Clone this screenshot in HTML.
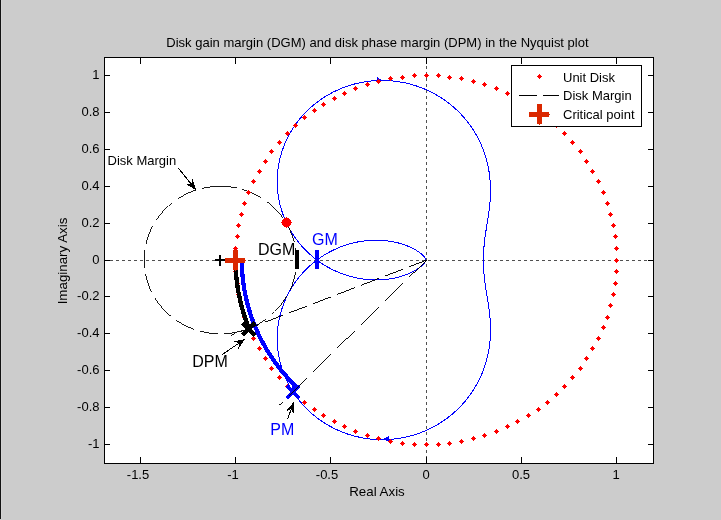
<!DOCTYPE html>
<html><head><meta charset="utf-8"><title>Disk margin Nyquist plot</title>
<style>
html,body{margin:0;padding:0;background:#cccccc;}
body{width:721px;height:520px;overflow:hidden;position:relative;}
svg{position:absolute;left:0;top:0;display:block;}
text{font-family:"Liberation Sans",Arial,Helvetica,sans-serif;fill:#000;}
.s{font-size:13px;}
.a{font-size:13.33px;}
.b{font-size:16px;}
</style></head><body>
<svg width="721" height="520" viewBox="0 0 721 520">
<rect x="0" y="0" width="721" height="520" fill="#cccccc"/>
<rect x="0" y="0" width="1" height="519" fill="#111111"/>
<rect x="1" y="0" width="1" height="519" fill="#d3d3d3"/>
<rect x="104" y="57" width="550" height="407" fill="#ffffff"/>
<g shape-rendering="crispEdges" fill="none">
<path d="M104 260.5H653" stroke="#505050" stroke-width="1" stroke-dasharray="3 3" stroke-dashoffset="0"/>
<path d="M426.5 60V463" stroke="#505050" stroke-width="1" stroke-dasharray="3 3"/>
</g>
<g shape-rendering="crispEdges" fill="none" stroke="#0000ff" stroke-width="1">
<path d="M483.5 260.05 L483.51 260.85 L483.51 261.66 L483.52 262.46 L483.53 263.25 L483.55 264.03 L483.56 264.82 L483.58 265.61 L483.61 266.38 L483.64 267.17 L483.67 267.94 L483.7 268.73 L483.74 269.5 L483.79 270.3 L483.83 271.11 L483.88 271.89 L483.94 272.66 L483.99 273.42 L484.05 274.17 L484.12 274.96 L484.19 275.73 L484.26 276.55 L484.34 277.32 L484.42 278.05 L484.5 278.82 L484.59 279.63 L484.68 280.37 L484.78 281.15 L484.87 281.86 L484.96 282.59 L485.07 283.36 L485.18 284.17 L485.3 285.01 L485.41 285.75 L485.52 286.52 L485.65 287.33 L485.78 288.17 L485.89 288.87 L486.01 289.6 L486.13 290.36 L486.26 291.15 L486.39 291.98 L486.54 292.84 L486.69 293.74 L486.8 294.44 L486.93 295.17 L487.05 295.92 L487.18 296.7 L487.32 297.52 L487.46 298.36 L487.6 299.24 L487.75 300.15 L487.9 301.1 L488.06 302.1 L488.22 303.14 L488.33 303.85 L488.44 304.6 L488.56 305.36 L488.67 306.15 L488.79 306.96 L488.9 307.8 L489.02 308.67 L489.14 309.57 L489.26 310.51 L489.37 311.47 L489.49 312.47 L489.6 313.51 L489.72 314.59 L489.83 315.71 L489.93 316.88 L490.04 318.09 L490.13 319.35 L490.22 320.67 L490.3 322.04 L490.37 323.48 L490.43 324.98 L490.47 326.54 L490.49 327.35 L490.5 328.18 L490.5 329.03 L490.5 329.9 L490.5 330.79 L490.48 331.7 L490.46 332.64 L490.44 333.59 L490.4 334.58 L490.36 335.58 L490.3 336.61 L490.24 337.67 L490.16 338.75 L490.07 339.87 L489.97 341.01 L489.86 342.18 L489.73 343.39 L489.58 344.62 L489.41 345.89 L489.23 347.2 L489.02 348.54 L488.79 349.91 L488.54 351.33 L488.26 352.78 L487.95 354.28 L487.62 355.81 L487.24 357.39 L486.84 359.02 L486.39 360.69 L485.9 362.41 L485.37 364.17 L484.78 365.99 L484.14 367.85 L483.45 369.77 L482.69 371.74 L481.87 373.76 L480.97 375.84 L480.0 377.97 L478.94 380.16 L477.79 382.4 L476.54 384.7 L475.19 387.05 L473.72 389.45 L472.12 391.91 L470.4 394.41 L468.53 396.96 L466.51 399.55 L464.32 402.17 L461.96 404.83 L459.41 407.51 L456.66 410.2 L453.69 412.89 L450.5 415.58 L447.07 418.24 L443.39 420.86 L439.45 423.41 L435.23 425.89 L430.73 428.27 L425.94 430.5 L420.85 432.58 L415.47 434.46 L409.79 436.11 L403.82 437.5 L397.57 438.58 L391.06 439.31 L384.32 439.65 L377.36 439.57 L370.24 439.03 L362.99 437.98 L355.66 436.41 L348.33 434.3 L341.04 431.62 L333.86 428.36 L326.87 424.54 L320.14 420.17 L313.74 415.28 L307.72 409.89 L302.15 404.06 L297.09 397.84 L292.56 391.29 L288.61 384.47 L285.25 377.46 L282.49 370.33 L280.32 363.14 L278.74 355.96 L277.72 348.84 L277.24 341.85 L277.25 335.03 L277.73 328.41 L278.62 322.04 L279.88 315.93 L281.48 310.11 L283.36 304.58 L285.49 299.36 L287.83 294.45 L290.33 289.84 L292.98 285.53 L295.74 281.52 L298.57 277.78 L301.46 274.32 L304.39 271.12 L307.34 268.16 L310.29 265.43 L313.22 262.93 L316.13 260.63 L319.01 258.51 L321.84 256.58 L324.63 254.82 L327.37 253.21 L330.04 251.74 L332.66 250.4 L335.21 249.19 L337.7 248.1 L340.13 247.1 L342.48 246.21 L344.78 245.4 L347.0 244.67 L349.16 244.03 L351.26 243.45 L353.3 242.93 L355.27 242.47 L357.18 242.07 L359.04 241.72 L360.83 241.41 L362.57 241.15 L364.26 240.92 L365.89 240.73 L367.48 240.58 L369.01 240.45 L370.5 240.35 L371.94 240.28 L373.33 240.22 L374.69 240.19 L376.0 240.18 L377.27 240.19 L378.5 240.21 L379.69 240.25 L380.85 240.3 L381.97 240.36 L383.06 240.44 L384.12 240.53 L385.15 240.62 L386.14 240.72 L387.11 240.83 L388.05 240.95 L388.96 241.08 L389.84 241.21 L390.7 241.34 L391.53 241.48 L392.35 241.63 L393.13 241.77 L393.9 241.92 L394.64 242.08 L395.37 242.23 L396.07 242.39 L396.76 242.55 L397.42 242.72 L398.07 242.88 L399.32 243.21 L400.5 243.54 L401.62 243.88 L402.68 244.21 L403.69 244.55 L404.65 244.88 L405.56 245.21 L406.42 245.53 L407.25 245.86 L408.03 246.18 L408.78 246.49 L409.49 246.8 L410.17 247.11 L410.82 247.41 L411.44 247.7 L412.03 247.99 L412.59 248.28 L413.13 248.56 L413.9 248.96 L414.61 249.36 L415.28 249.74 L415.91 250.12 L416.5 250.47 L417.05 250.82 L417.56 251.16 L418.05 251.48 L418.65 251.9 L419.2 252.3 L419.71 252.68 L420.18 253.04 L420.72 253.46 L421.21 253.87 L421.65 254.25 L422.12 254.67 L422.55 255.07 L422.98 255.5 L423.41 255.94 L423.83 256.39 L424.21 256.83 L424.58 257.3 L424.93 257.76 L425.25 258.24 L425.56 258.75 L425.83 259.29 L426.03 259.9 L426.05 260.05"/>
<path d="M483.5 260.05 L483.51 259.26 L483.51 258.46 L483.52 257.66 L483.53 256.86 L483.55 256.07 L483.56 255.26 L483.59 254.47 L483.61 253.69 L483.64 252.9 L483.67 252.12 L483.71 251.33 L483.74 250.56 L483.79 249.8 L483.83 248.99 L483.88 248.21 L483.94 247.44 L483.99 246.68 L484.05 245.93 L484.12 245.14 L484.19 244.37 L484.26 243.64 L484.33 242.87 L484.41 242.14 L484.49 241.38 L484.58 240.58 L484.67 239.84 L484.76 239.06 L484.87 238.24 L484.96 237.51 L485.07 236.74 L485.18 235.93 L485.3 235.09 L485.41 234.35 L485.52 233.58 L485.65 232.77 L485.78 231.93 L485.89 231.23 L486.01 230.5 L486.13 229.74 L486.26 228.95 L486.39 228.12 L486.54 227.26 L486.69 226.36 L486.8 225.66 L486.93 224.93 L487.05 224.18 L487.18 223.4 L487.32 222.58 L487.46 221.74 L487.6 220.86 L487.75 219.95 L487.9 219.0 L488.06 218.0 L488.22 216.96 L488.33 216.25 L488.44 215.5 L488.56 214.74 L488.67 213.95 L488.79 213.14 L488.9 212.3 L489.02 211.43 L489.14 210.53 L489.26 209.59 L489.37 208.63 L489.49 207.63 L489.6 206.59 L489.72 205.51 L489.83 204.39 L489.93 203.22 L490.04 202.01 L490.13 200.75 L490.22 199.43 L490.3 198.06 L490.37 196.62 L490.43 195.12 L490.47 193.56 L490.49 192.75 L490.5 191.92 L490.5 191.07 L490.5 190.2 L490.5 189.31 L490.48 188.4 L490.46 187.46 L490.44 186.51 L490.4 185.52 L490.36 184.52 L490.3 183.49 L490.24 182.43 L490.16 181.35 L490.07 180.23 L489.97 179.09 L489.86 177.92 L489.73 176.71 L489.58 175.48 L489.41 174.21 L489.23 172.9 L489.02 171.56 L488.79 170.19 L488.54 168.77 L488.26 167.32 L487.95 165.82 L487.62 164.29 L487.24 162.71 L486.84 161.08 L486.39 159.41 L485.9 157.69 L485.37 155.93 L484.78 154.11 L484.14 152.25 L483.45 150.33 L482.69 148.36 L481.87 146.34 L480.97 144.26 L480.0 142.13 L478.94 139.94 L477.79 137.7 L476.54 135.4 L475.19 133.05 L473.72 130.65 L472.12 128.19 L470.4 125.69 L468.53 123.14 L466.51 120.55 L464.32 117.93 L461.96 115.27 L459.41 112.59 L456.66 109.9 L453.69 107.21 L450.5 104.52 L447.07 101.86 L443.39 99.24 L439.45 96.69 L435.23 94.21 L430.73 91.83 L425.94 89.6 L420.85 87.52 L415.47 85.64 L409.79 83.99 L403.82 82.6 L397.57 81.52 L391.06 80.79 L384.32 80.45 L377.36 80.53 L370.24 81.07 L362.99 82.12 L355.66 83.69 L348.33 85.8 L341.04 88.48 L333.86 91.74 L326.87 95.56 L320.14 99.93 L313.74 104.82 L307.72 110.21 L302.15 116.04 L297.09 122.26 L292.56 128.81 L288.61 135.63 L285.25 142.64 L282.49 149.77 L280.32 156.96 L278.74 164.14 L277.72 171.26 L277.24 178.25 L277.25 185.07 L277.73 191.69 L278.62 198.06 L279.88 204.17 L281.48 209.99 L283.36 215.52 L285.49 220.74 L287.83 225.65 L290.33 230.26 L292.98 234.57 L295.74 238.58 L298.57 242.32 L301.46 245.78 L304.39 248.98 L307.34 251.94 L310.29 254.67 L313.22 257.17 L316.13 259.47 L319.01 261.59 L321.84 263.52 L324.63 265.28 L327.37 266.89 L330.04 268.36 L332.66 269.7 L335.21 270.91 L337.7 272.0 L340.13 273.0 L342.48 273.89 L344.78 274.7 L347.0 275.43 L349.16 276.07 L351.26 276.65 L353.3 277.17 L355.27 277.63 L357.18 278.03 L359.04 278.38 L360.83 278.69 L362.57 278.95 L364.26 279.18 L365.89 279.37 L367.48 279.52 L369.01 279.65 L370.5 279.75 L371.94 279.82 L373.33 279.88 L374.69 279.91 L376.0 279.92 L377.27 279.91 L378.5 279.89 L379.69 279.85 L380.85 279.8 L381.97 279.74 L383.06 279.66 L384.12 279.57 L385.15 279.48 L386.14 279.38 L387.11 279.27 L388.05 279.15 L388.96 279.02 L389.84 278.89 L390.7 278.76 L391.53 278.62 L392.35 278.47 L393.13 278.33 L393.9 278.18 L394.64 278.02 L395.37 277.87 L396.07 277.71 L396.76 277.55 L397.42 277.38 L398.07 277.22 L399.32 276.89 L400.5 276.56 L401.62 276.22 L402.68 275.89 L403.69 275.55 L404.65 275.22 L405.56 274.89 L406.42 274.57 L407.25 274.24 L408.03 273.92 L408.78 273.61 L409.49 273.3 L410.17 272.99 L410.82 272.69 L411.44 272.4 L412.03 272.11 L412.59 271.82 L413.13 271.54 L413.9 271.14 L414.61 270.74 L415.28 270.36 L415.91 269.98 L416.5 269.63 L417.05 269.28 L417.56 268.94 L418.05 268.62 L418.65 268.2 L419.2 267.8 L419.71 267.42 L420.18 267.06 L420.72 266.64 L421.21 266.23 L421.65 265.85 L422.12 265.43 L422.55 265.03 L422.98 264.6 L423.41 264.16 L423.83 263.71 L424.21 263.27 L424.58 262.8 L424.93 262.34 L425.27 261.83 L425.57 261.33 L425.84 260.78 L426.04 260.18 L426.05 260.05"/>
</g>
<g shape-rendering="crispEdges" fill="#0000ff">
<path d="M377 77 L382.5 80.5 L377 83 Z"/>
<path d="M383 439 L389 436 L389 442 Z"/>
</g>
<g shape-rendering="crispEdges" fill="none" stroke="#000" stroke-width="1">
<path stroke-width="0.9" d="M220.3 186.2 L218.7 186.3 L217.1 186.3 L215.7 186.4 L214.2 186.5 L212.8 186.6 L211.4 186.8 L210.0 186.9 L208.5 187.1 L207.1 187.4 L205.7 187.6 L204.3 187.9 L203.1 188.2 L202.3 188.3 M196.3 190.0 L195.1 190.4 L193.9 190.8 L192.7 191.3 L191.5 191.7 L190.3 192.2 L189.2 192.7 L188.0 193.2 L186.8 193.7 L185.7 194.3 L184.6 194.9 L183.4 195.5 L182.5 196.0 L181.5 196.5 L180.6 197.1 L179.6 197.7 L178.7 198.2 L178.3 198.5 M172.2 202.8 L171.4 203.5 L170.5 204.2 L169.7 204.9 L168.8 205.6 L168.0 206.4 L167.2 207.1 L166.4 207.9 L165.6 208.7 L164.9 209.4 L164.1 210.2 L163.3 211.0 L162.6 211.8 L161.9 212.7 L161.2 213.5 L160.5 214.3 L159.8 215.2 L159.1 216.1 L158.5 216.9 L157.8 217.8 L157.2 218.7 L156.6 219.6 L156.3 220.0 M152.7 226.0 L152.1 227.1 L151.6 228.2 L151.0 229.4 L150.5 230.5 L150.0 231.6 L149.5 232.8 L149.0 233.9 L148.6 235.1 L148.2 236.2 L147.8 237.4 L147.4 238.6 L147.0 239.8 L146.7 241.0 L146.4 242.2 L146.1 243.4 L145.9 244.0 M144.8 250.1 L144.6 251.4 L144.5 252.8 L144.3 254.2 L144.2 255.8 L144.2 257.3 L144.1 258.9 L144.1 260.4 L144.1 261.9 L144.2 263.5 L144.3 265.0 L144.4 266.6 L144.5 268.0 L144.6 268.1 M145.5 274.1 L145.8 275.4 L146.1 276.8 L146.4 278.0 L146.7 279.2 L147.1 280.4 L147.4 281.6 L147.8 282.8 L148.2 283.9 L148.6 285.1 L149.1 286.3 L149.5 287.4 L150.0 288.6 L150.5 289.7 L151.0 290.8 L151.6 291.9 L151.7 292.1 M155.0 298.1 L155.6 299.0 L156.2 299.9 L156.8 300.8 L157.4 301.7 L158.0 302.6 L158.7 303.5 L159.4 304.3 L160.0 305.2 L160.7 306.1 L161.4 306.9 L162.1 307.7 L162.9 308.5 L163.6 309.4 L164.4 310.2 L165.1 310.9 L165.9 311.7 L166.7 312.5 L167.5 313.2 L168.3 314.0 L169.1 314.7 L170.0 315.4 L170.2 315.7 M176.2 320.2 L177.1 320.9 L178.1 321.5 L179.0 322.1 L179.9 322.6 L180.9 323.2 L181.9 323.8 L182.8 324.3 L183.8 324.8 L184.9 325.4 L186.1 326.0 L187.2 326.5 L188.4 327.1 L189.5 327.6 L190.7 328.0 L191.9 328.5 L193.1 329.0 L194.3 329.4 M200.2 331.2 L201.4 331.5 L202.7 331.8 L203.9 332.1 L205.2 332.4 L206.6 332.6 L208.0 332.9 L209.4 333.1 L210.8 333.3 L212.3 333.4 L213.7 333.6 L215.1 333.7 L216.6 333.8 L218.2 333.8 M224.2 333.8 L225.7 333.7 L227.1 333.6 L228.5 333.4 L229.9 333.3 L231.4 333.1 L232.8 332.9 L234.2 332.6 L235.6 332.3 L236.9 332.1 L238.1 331.8 L239.3 331.5 L240.6 331.2 L241.8 330.9 L242.3 330.7 M248.3 328.7 L249.5 328.2 L250.7 327.7 L251.8 327.2 L253.0 326.7 L254.1 326.2 L255.3 325.6 L256.4 325.0 L257.5 324.5 L258.5 323.9 L259.5 323.4 L260.4 322.8 L261.4 322.2 L262.3 321.6 L263.2 321.0 L264.1 320.4 L265.0 319.8 L265.9 319.1 L266.2 319.0 M272.2 314.1 L273.0 313.4 L273.8 312.6 L274.6 311.8 L275.4 311.1 L276.1 310.3 L276.9 309.5 L277.6 308.7 L278.4 307.8 L279.1 307.0 L279.8 306.2 L280.5 305.3 L281.2 304.5 L281.8 303.6 L282.5 302.7 L283.1 301.8 L283.7 300.9 L284.4 300.0 L285.0 299.1 L285.5 298.2 L286.1 297.3 L286.7 296.2 M289.8 290.3 L290.3 289.1 L290.8 288.0 L291.3 286.8 L291.8 285.7 L292.2 284.5 L292.6 283.3 L293.0 282.2 L293.4 281.0 L293.7 279.8 L294.1 278.6 L294.4 277.4 L294.7 276.0 L295.0 274.7 L295.3 273.3 L295.5 272.2 M296.2 266.3 L296.4 264.7 L296.4 263.2 L296.5 261.6 L296.5 260.1 L296.5 258.5 L296.4 257.0 L296.4 255.5 L296.2 253.9 L296.1 252.5 L296.0 251.1 L295.8 249.8 L295.6 248.4 L295.5 248.2 M294.2 242.2 L293.9 241.0 L293.6 239.8 L293.2 238.6 L292.8 237.4 L292.4 236.2 L292.0 235.1 L291.6 233.9 L291.1 232.8 L290.6 231.6 L290.1 230.5 L289.6 229.4 L289.1 228.2 L288.5 227.1 L287.9 226.0 L287.3 224.9 L286.9 224.2 M283.1 218.2 L282.4 217.3 L281.8 216.4 L281.1 215.6 L280.4 214.7 L279.7 213.9 L279.0 213.0 L278.3 212.2 L277.6 211.4 L276.8 210.6 L276.1 209.8 L275.3 209.0 L274.5 208.2 L273.8 207.4 L273.0 206.7 L272.1 205.9 L271.3 205.2 L270.5 204.5 L269.6 203.8 L268.8 203.1 L267.9 202.4 L267.0 201.7 L266.5 201.4 M260.6 197.4 L259.7 196.9 L258.7 196.3 L257.7 195.8 L256.8 195.2 L255.6 194.7 L254.5 194.1 L253.3 193.5 L252.2 193.0 L251.0 192.5 L249.8 192.0 L248.7 191.6 L247.5 191.1 L246.3 190.7 L245.1 190.3 L243.9 189.9 L242.6 189.5 L242.5 189.4 M236.6 188.0 L235.4 187.7 L234.0 187.4 L232.5 187.2 L231.1 187.0 L229.7 186.8 L228.3 186.7 L226.8 186.5 L225.4 186.4 L224.0 186.3 L222.4 186.3 L220.8 186.3 L220.3 186.2 "/>
</g>
<g fill="#ff0000" shape-rendering="crispEdges">
<path d="M614.0 260.0h1v-1h1v-1h1v1h1v1h1v1h-1v1h-1v1h-1v-1h-1v-1h-1z"/>
<path d="M614.0 248.0h1v-1h1v-1h1v1h1v1h1v1h-1v1h-1v1h-1v-1h-1v-1h-1z"/>
<path d="M613.0 236.0h1v-1h1v-1h1v1h1v1h1v1h-1v1h-1v1h-1v-1h-1v-1h-1z"/>
<path d="M611.0 225.0h1v-1h1v-1h1v1h1v1h1v1h-1v1h-1v1h-1v-1h-1v-1h-1z"/>
<path d="M608.0 214.0h1v-1h1v-1h1v1h1v1h1v1h-1v1h-1v1h-1v-1h-1v-1h-1z"/>
<path d="M605.0 203.0h1v-1h1v-1h1v1h1v1h1v1h-1v1h-1v1h-1v-1h-1v-1h-1z"/>
<path d="M601.0 192.0h1v-1h1v-1h1v1h1v1h1v1h-1v1h-1v1h-1v-1h-1v-1h-1z"/>
<path d="M596.0 181.0h1v-1h1v-1h1v1h1v1h1v1h-1v1h-1v1h-1v-1h-1v-1h-1z"/>
<path d="M590.0 171.0h1v-1h1v-1h1v1h1v1h1v1h-1v1h-1v1h-1v-1h-1v-1h-1z"/>
<path d="M584.0 161.0h1v-1h1v-1h1v1h1v1h1v1h-1v1h-1v1h-1v-1h-1v-1h-1z"/>
<path d="M578.0 151.0h1v-1h1v-1h1v1h1v1h1v1h-1v1h-1v1h-1v-1h-1v-1h-1z"/>
<path d="M570.0 142.0h1v-1h1v-1h1v1h1v1h1v1h-1v1h-1v1h-1v-1h-1v-1h-1z"/>
<path d="M562.0 133.0h1v-1h1v-1h1v1h1v1h1v1h-1v1h-1v1h-1v-1h-1v-1h-1z"/>
<path d="M554.0 125.0h1v-1h1v-1h1v1h1v1h1v1h-1v1h-1v1h-1v-1h-1v-1h-1z"/>
<path d="M545.0 117.0h1v-1h1v-1h1v1h1v1h1v1h-1v1h-1v1h-1v-1h-1v-1h-1z"/>
<path d="M536.0 110.0h1v-1h1v-1h1v1h1v1h1v1h-1v1h-1v1h-1v-1h-1v-1h-1z"/>
<path d="M526.0 104.0h1v-1h1v-1h1v1h1v1h1v1h-1v1h-1v1h-1v-1h-1v-1h-1z"/>
<path d="M515.0 98.0h1v-1h1v-1h1v1h1v1h1v1h-1v1h-1v1h-1v-1h-1v-1h-1z"/>
<path d="M505.0 93.0h1v-1h1v-1h1v1h1v1h1v1h-1v1h-1v1h-1v-1h-1v-1h-1z"/>
<path d="M494.0 88.0h1v-1h1v-1h1v1h1v1h1v1h-1v1h-1v1h-1v-1h-1v-1h-1z"/>
<path d="M482.0 84.0h1v-1h1v-1h1v1h1v1h1v1h-1v1h-1v1h-1v-1h-1v-1h-1z"/>
<path d="M471.0 81.0h1v-1h1v-1h1v1h1v1h1v1h-1v1h-1v1h-1v-1h-1v-1h-1z"/>
<path d="M459.0 78.0h1v-1h1v-1h1v1h1v1h1v1h-1v1h-1v1h-1v-1h-1v-1h-1z"/>
<path d="M447.0 77.0h1v-1h1v-1h1v1h1v1h1v1h-1v1h-1v1h-1v-1h-1v-1h-1z"/>
<path d="M436.0 75.0h1v-1h1v-1h1v1h1v1h1v1h-1v1h-1v1h-1v-1h-1v-1h-1z"/>
<path d="M424.0 75.0h1v-1h1v-1h1v1h1v1h1v1h-1v1h-1v1h-1v-1h-1v-1h-1z"/>
<path d="M412.0 75.0h1v-1h1v-1h1v1h1v1h1v1h-1v1h-1v1h-1v-1h-1v-1h-1z"/>
<path d="M400.0 77.0h1v-1h1v-1h1v1h1v1h1v1h-1v1h-1v1h-1v-1h-1v-1h-1z"/>
<path d="M388.0 78.0h1v-1h1v-1h1v1h1v1h1v1h-1v1h-1v1h-1v-1h-1v-1h-1z"/>
<path d="M376.0 81.0h1v-1h1v-1h1v1h1v1h1v1h-1v1h-1v1h-1v-1h-1v-1h-1z"/>
<path d="M365.0 84.0h1v-1h1v-1h1v1h1v1h1v1h-1v1h-1v1h-1v-1h-1v-1h-1z"/>
<path d="M353.0 88.0h1v-1h1v-1h1v1h1v1h1v1h-1v1h-1v1h-1v-1h-1v-1h-1z"/>
<path d="M342.0 93.0h1v-1h1v-1h1v1h1v1h1v1h-1v1h-1v1h-1v-1h-1v-1h-1z"/>
<path d="M332.0 98.0h1v-1h1v-1h1v1h1v1h1v1h-1v1h-1v1h-1v-1h-1v-1h-1z"/>
<path d="M321.0 104.0h1v-1h1v-1h1v1h1v1h1v1h-1v1h-1v1h-1v-1h-1v-1h-1z"/>
<path d="M312.0 110.0h1v-1h1v-1h1v1h1v1h1v1h-1v1h-1v1h-1v-1h-1v-1h-1z"/>
<path d="M302.0 117.0h1v-1h1v-1h1v1h1v1h1v1h-1v1h-1v1h-1v-1h-1v-1h-1z"/>
<path d="M293.0 125.0h1v-1h1v-1h1v1h1v1h1v1h-1v1h-1v1h-1v-1h-1v-1h-1z"/>
<path d="M285.0 133.0h1v-1h1v-1h1v1h1v1h1v1h-1v1h-1v1h-1v-1h-1v-1h-1z"/>
<path d="M277.0 142.0h1v-1h1v-1h1v1h1v1h1v1h-1v1h-1v1h-1v-1h-1v-1h-1z"/>
<path d="M269.0 151.0h1v-1h1v-1h1v1h1v1h1v1h-1v1h-1v1h-1v-1h-1v-1h-1z"/>
<path d="M263.0 161.0h1v-1h1v-1h1v1h1v1h1v1h-1v1h-1v1h-1v-1h-1v-1h-1z"/>
<path d="M257.0 171.0h1v-1h1v-1h1v1h1v1h1v1h-1v1h-1v1h-1v-1h-1v-1h-1z"/>
<path d="M251.0 181.0h1v-1h1v-1h1v1h1v1h1v1h-1v1h-1v1h-1v-1h-1v-1h-1z"/>
<path d="M246.0 192.0h1v-1h1v-1h1v1h1v1h1v1h-1v1h-1v1h-1v-1h-1v-1h-1z"/>
<path d="M242.0 203.0h1v-1h1v-1h1v1h1v1h1v1h-1v1h-1v1h-1v-1h-1v-1h-1z"/>
<path d="M239.0 214.0h1v-1h1v-1h1v1h1v1h1v1h-1v1h-1v1h-1v-1h-1v-1h-1z"/>
<path d="M236.0 225.0h1v-1h1v-1h1v1h1v1h1v1h-1v1h-1v1h-1v-1h-1v-1h-1z"/>
<path d="M235.0 236.0h1v-1h1v-1h1v1h1v1h1v1h-1v1h-1v1h-1v-1h-1v-1h-1z"/>
<path d="M233.0 248.0h1v-1h1v-1h1v1h1v1h1v1h-1v1h-1v1h-1v-1h-1v-1h-1z"/>
<path d="M233.0 260.0h1v-1h1v-1h1v1h1v1h1v1h-1v1h-1v1h-1v-1h-1v-1h-1z"/>
<path d="M233.0 271.0h1v-1h1v-1h1v1h1v1h1v1h-1v1h-1v1h-1v-1h-1v-1h-1z"/>
<path d="M235.0 283.0h1v-1h1v-1h1v1h1v1h1v1h-1v1h-1v1h-1v-1h-1v-1h-1z"/>
<path d="M236.0 294.0h1v-1h1v-1h1v1h1v1h1v1h-1v1h-1v1h-1v-1h-1v-1h-1z"/>
<path d="M239.0 305.0h1v-1h1v-1h1v1h1v1h1v1h-1v1h-1v1h-1v-1h-1v-1h-1z"/>
<path d="M242.0 317.0h1v-1h1v-1h1v1h1v1h1v1h-1v1h-1v1h-1v-1h-1v-1h-1z"/>
<path d="M246.0 327.0h1v-1h1v-1h1v1h1v1h1v1h-1v1h-1v1h-1v-1h-1v-1h-1z"/>
<path d="M251.0 338.0h1v-1h1v-1h1v1h1v1h1v1h-1v1h-1v1h-1v-1h-1v-1h-1z"/>
<path d="M257.0 348.0h1v-1h1v-1h1v1h1v1h1v1h-1v1h-1v1h-1v-1h-1v-1h-1z"/>
<path d="M263.0 358.0h1v-1h1v-1h1v1h1v1h1v1h-1v1h-1v1h-1v-1h-1v-1h-1z"/>
<path d="M269.0 368.0h1v-1h1v-1h1v1h1v1h1v1h-1v1h-1v1h-1v-1h-1v-1h-1z"/>
<path d="M277.0 377.0h1v-1h1v-1h1v1h1v1h1v1h-1v1h-1v1h-1v-1h-1v-1h-1z"/>
<path d="M285.0 386.0h1v-1h1v-1h1v1h1v1h1v1h-1v1h-1v1h-1v-1h-1v-1h-1z"/>
<path d="M293.0 394.0h1v-1h1v-1h1v1h1v1h1v1h-1v1h-1v1h-1v-1h-1v-1h-1z"/>
<path d="M302.0 402.0h1v-1h1v-1h1v1h1v1h1v1h-1v1h-1v1h-1v-1h-1v-1h-1z"/>
<path d="M312.0 409.0h1v-1h1v-1h1v1h1v1h1v1h-1v1h-1v1h-1v-1h-1v-1h-1z"/>
<path d="M321.0 415.0h1v-1h1v-1h1v1h1v1h1v1h-1v1h-1v1h-1v-1h-1v-1h-1z"/>
<path d="M332.0 421.0h1v-1h1v-1h1v1h1v1h1v1h-1v1h-1v1h-1v-1h-1v-1h-1z"/>
<path d="M342.0 426.0h1v-1h1v-1h1v1h1v1h1v1h-1v1h-1v1h-1v-1h-1v-1h-1z"/>
<path d="M353.0 431.0h1v-1h1v-1h1v1h1v1h1v1h-1v1h-1v1h-1v-1h-1v-1h-1z"/>
<path d="M365.0 435.0h1v-1h1v-1h1v1h1v1h1v1h-1v1h-1v1h-1v-1h-1v-1h-1z"/>
<path d="M376.0 438.0h1v-1h1v-1h1v1h1v1h1v1h-1v1h-1v1h-1v-1h-1v-1h-1z"/>
<path d="M388.0 441.0h1v-1h1v-1h1v1h1v1h1v1h-1v1h-1v1h-1v-1h-1v-1h-1z"/>
<path d="M400.0 443.0h1v-1h1v-1h1v1h1v1h1v1h-1v1h-1v1h-1v-1h-1v-1h-1z"/>
<path d="M412.0 444.0h1v-1h1v-1h1v1h1v1h1v1h-1v1h-1v1h-1v-1h-1v-1h-1z"/>
<path d="M424.0 444.0h1v-1h1v-1h1v1h1v1h1v1h-1v1h-1v1h-1v-1h-1v-1h-1z"/>
<path d="M436.0 444.0h1v-1h1v-1h1v1h1v1h1v1h-1v1h-1v1h-1v-1h-1v-1h-1z"/>
<path d="M447.0 443.0h1v-1h1v-1h1v1h1v1h1v1h-1v1h-1v1h-1v-1h-1v-1h-1z"/>
<path d="M459.0 441.0h1v-1h1v-1h1v1h1v1h1v1h-1v1h-1v1h-1v-1h-1v-1h-1z"/>
<path d="M471.0 438.0h1v-1h1v-1h1v1h1v1h1v1h-1v1h-1v1h-1v-1h-1v-1h-1z"/>
<path d="M482.0 435.0h1v-1h1v-1h1v1h1v1h1v1h-1v1h-1v1h-1v-1h-1v-1h-1z"/>
<path d="M494.0 431.0h1v-1h1v-1h1v1h1v1h1v1h-1v1h-1v1h-1v-1h-1v-1h-1z"/>
<path d="M505.0 426.0h1v-1h1v-1h1v1h1v1h1v1h-1v1h-1v1h-1v-1h-1v-1h-1z"/>
<path d="M515.0 421.0h1v-1h1v-1h1v1h1v1h1v1h-1v1h-1v1h-1v-1h-1v-1h-1z"/>
<path d="M526.0 415.0h1v-1h1v-1h1v1h1v1h1v1h-1v1h-1v1h-1v-1h-1v-1h-1z"/>
<path d="M536.0 409.0h1v-1h1v-1h1v1h1v1h1v1h-1v1h-1v1h-1v-1h-1v-1h-1z"/>
<path d="M545.0 402.0h1v-1h1v-1h1v1h1v1h1v1h-1v1h-1v1h-1v-1h-1v-1h-1z"/>
<path d="M554.0 394.0h1v-1h1v-1h1v1h1v1h1v1h-1v1h-1v1h-1v-1h-1v-1h-1z"/>
<path d="M562.0 386.0h1v-1h1v-1h1v1h1v1h1v1h-1v1h-1v1h-1v-1h-1v-1h-1z"/>
<path d="M570.0 377.0h1v-1h1v-1h1v1h1v1h1v1h-1v1h-1v1h-1v-1h-1v-1h-1z"/>
<path d="M578.0 368.0h1v-1h1v-1h1v1h1v1h1v1h-1v1h-1v1h-1v-1h-1v-1h-1z"/>
<path d="M584.0 358.0h1v-1h1v-1h1v1h1v1h1v1h-1v1h-1v1h-1v-1h-1v-1h-1z"/>
<path d="M590.0 348.0h1v-1h1v-1h1v1h1v1h1v1h-1v1h-1v1h-1v-1h-1v-1h-1z"/>
<path d="M596.0 338.0h1v-1h1v-1h1v1h1v1h1v1h-1v1h-1v1h-1v-1h-1v-1h-1z"/>
<path d="M601.0 327.0h1v-1h1v-1h1v1h1v1h1v1h-1v1h-1v1h-1v-1h-1v-1h-1z"/>
<path d="M605.0 317.0h1v-1h1v-1h1v1h1v1h1v1h-1v1h-1v1h-1v-1h-1v-1h-1z"/>
<path d="M608.0 305.0h1v-1h1v-1h1v1h1v1h1v1h-1v1h-1v1h-1v-1h-1v-1h-1z"/>
<path d="M611.0 294.0h1v-1h1v-1h1v1h1v1h1v1h-1v1h-1v1h-1v-1h-1v-1h-1z"/>
<path d="M613.0 283.0h1v-1h1v-1h1v1h1v1h1v1h-1v1h-1v1h-1v-1h-1v-1h-1z"/>
<path d="M614.0 271.0h1v-1h1v-1h1v1h1v1h1v1h-1v1h-1v1h-1v-1h-1v-1h-1z"/>
</g>
<path d="M235.6 260.1 L235.6 261.2 L235.6 262.4 L235.6 263.6 L235.6 264.8 L235.6 266.0 L235.7 267.2 L235.7 268.3 L235.8 269.5 L235.9 270.7 L235.9 271.9 L236.0 273.1 L236.1 274.2 L236.2 275.4 L236.3 276.6 L236.4 277.8 L236.6 279.0 L236.7 280.1 L236.8 281.3 L237.0 282.5 L237.1 283.7 L237.3 284.8 L237.4 286.0 L237.6 287.2 L237.8 288.4 L238.0 289.5 L238.2 290.7 L238.4 291.9 L238.6 293.0 L238.8 294.2 L239.1 295.4 L239.3 296.5 L239.6 297.7 L239.8 298.8 L240.1 300.0 L240.3 301.2 L240.6 302.3 L240.9 303.5 L241.2 304.6 L241.5 305.8 L241.8 306.9 L242.1 308.0 L242.4 309.2 L242.8 310.3 L243.1 311.5 L243.4 312.6 L243.8 313.7 L244.2 314.9 L244.5 316.0 L244.9 317.1 L245.3 318.3 L245.7 319.4 L246.1 320.5 L246.5 321.6 L246.9 322.7 L247.3 323.8 L247.7 325.0 L248.2 326.1 L248.6 327.2 L249.1 328.3" fill="none" stroke="#000" stroke-width="4.3" shape-rendering="crispEdges"/>
<path d="M241.8 260.1 L241.9 262.4 L241.9 264.7 L242.0 267.1 L242.1 269.4 L242.2 271.8 L242.4 274.1 L242.6 276.5 L242.9 278.8 L243.1 281.1 L243.4 283.4 L243.8 285.8 L244.1 288.1 L244.5 290.4 L244.9 292.7 L245.4 295.0 L245.9 297.3 L246.4 299.6 L247.0 301.9 L247.6 304.2 L248.2 306.4 L248.8 308.7 L249.5 310.9 L250.2 313.2 L250.9 315.4 L251.7 317.7 L252.5 319.9 L253.3 322.1 L254.2 324.3 L255.1 326.5 L256.0 328.6 L256.9 330.8 L257.9 332.9 L258.9 335.1 L259.9 337.2 L261.0 339.3 L262.1 341.4 L263.2 343.5 L264.4 345.5 L265.5 347.6 L266.7 349.6 L268.0 351.6 L269.2 353.7 L270.5 355.6 L271.8 357.6 L273.2 359.6 L274.5 361.5 L275.9 363.4 L277.3 365.3 L278.8 367.2 L280.2 369.1 L281.7 370.9 L283.3 372.8 L284.8 374.6 L286.4 376.4 L288.0 378.1 L289.6 379.9 L291.2 381.6 L292.9 383.3 L294.6 385.0 L292.8 391.9" fill="none" stroke="#0000ff" stroke-width="4.2" shape-rendering="crispEdges"/>
<path shape-rendering="crispEdges" fill="#ff0000" d="M286 217h1v1h-1zM284 218h5v1h-5zM283 219h7v1h-7zM282 220h9v5h-9zM281 222h11v1h-11zM283 225h7v1h-7zM284 226h5v1h-5zM286 227h1v1h-1z"/>
<rect x="295" y="250" width="4" height="19" fill="#000"/>
<rect x="315" y="250" width="4" height="19" fill="#0000ff"/>
<path d="M242.60000000000002 322.8L255.0 335.2M255.0 322.8L242.60000000000002 335.2" stroke="#000" stroke-width="4.2" fill="none" shape-rendering="crispEdges"/>
<path d="M286.8 385.8L299.2 398.2M299.2 385.8L286.8 398.2" stroke="#0000ff" stroke-width="4.2" fill="none" shape-rendering="crispEdges"/>
<g shape-rendering="crispEdges" fill="none" stroke="#000" stroke-width="1">
<path d="M426.6 260.1L231.4 335.1" stroke-dasharray="19.28 6.43" stroke-width="0.95"/>
<path d="M426.6 260.1L279.4 405.1" stroke-dasharray="25.27 8.42" stroke-width="0.95"/>
</g>
<path d="M215 259h10v2h-10zM219 255h2v11h-2z" fill="#000" shape-rendering="crispEdges"/>
<path d="M225 258h20v5h-20zM233 250h5v20h-5zM245 260h1v1h-1zM235 270h1v1h-1z" fill="#da2800" shape-rendering="crispEdges"/>
<g shape-rendering="crispEdges" stroke="#000" stroke-width="1" fill="none">
<rect x="104.5" y="57.5" width="549" height="406"/>
<path d="M140.5 463V457M140.5 58V64"/>
<path d="M235.5 463V457M235.5 58V64"/>
<path d="M330.5 463V457M330.5 58V64"/>
<path d="M426.5 463V457M426.5 58V64"/>
<path d="M521.5 463V457M521.5 58V64"/>
<path d="M616.5 463V457M616.5 58V64"/>
<path d="M105 75.5H110M653 75.5H648"/>
<path d="M105 112.5H110M653 112.5H648"/>
<path d="M105 149.5H110M653 149.5H648"/>
<path d="M105 186.5H110M653 186.5H648"/>
<path d="M105 223.5H110M653 223.5H648"/>
<path d="M105 260.5H110M653 260.5H648"/>
<path d="M105 296.5H110M653 296.5H648"/>
<path d="M105 333.5H110M653 333.5H648"/>
<path d="M105 370.5H110M653 370.5H648"/>
<path d="M105 407.5H110M653 407.5H648"/>
<path d="M105 444.5H110M653 444.5H648"/>
</g>
<text class="s" x="138.0" y="479" text-anchor="middle">-1.5</text>
<text class="s" x="233.0" y="479" text-anchor="middle">-1</text>
<text class="s" x="327.0" y="479" text-anchor="middle">-0.5</text>
<text class="s" x="426.0" y="479" text-anchor="middle">0</text>
<text class="s" x="521.0" y="479" text-anchor="middle">0.5</text>
<text class="s" x="616.0" y="479" text-anchor="middle">1</text>
<text class="s" x="99.5" y="79.4" text-anchor="end">1</text>
<text class="s" x="99.5" y="116.4" text-anchor="end">0.8</text>
<text class="s" x="99.5" y="153.4" text-anchor="end">0.6</text>
<text class="s" x="99.5" y="190.4" text-anchor="end">0.4</text>
<text class="s" x="99.5" y="227.4" text-anchor="end">0.2</text>
<text class="s" x="99.5" y="264.4" text-anchor="end">0</text>
<text class="s" x="99.5" y="300.4" text-anchor="end">-0.2</text>
<text class="s" x="99.5" y="337.4" text-anchor="end">-0.4</text>
<text class="s" x="99.5" y="374.4" text-anchor="end">-0.6</text>
<text class="s" x="99.5" y="411.4" text-anchor="end">-0.8</text>
<text class="s" x="99.5" y="448.4" text-anchor="end">-1</text>
<text class="s" x="166.3" y="46.8" textLength="422.3" lengthAdjust="spacing">Disk gain margin (DGM) and disk phase margin (DPM) in the Nyquist plot</text>
<text class="a" x="377" y="495.8" text-anchor="middle">Real Axis</text>
<text class="a" transform="translate(67.2 261) rotate(-90)" text-anchor="middle">Imaginary Axis</text>
<text class="s" x="107.5" y="164.7">Disk Margin</text>
<text class="b" x="258" y="254.8">DGM</text>
<text class="b" x="312" y="244.8" style="fill:#0000ff">GM</text>
<text class="b" x="192.2" y="366.9">DPM</text>
<text class="b" x="270.3" y="434.7" style="fill:#0000ff">PM</text>
<path d="M178.4 168.1L191.3 184.2" stroke="#000" stroke-width="1" fill="none" shape-rendering="crispEdges"/><path shape-rendering="crispEdges" d="M196.0 190.0L185.4 183.8L191.3 184.2L192.2 178.3Z" fill="#000"/>
<path d="M222.1 354.6L239.1 343.1" stroke="#000" stroke-width="1" fill="none" shape-rendering="crispEdges"/><path shape-rendering="crispEdges" d="M245.3 338.9L238.2 349.0L239.1 343.1L233.3 341.7Z" fill="#000"/>
<path d="M287.7 419.0L291.2 409.2" stroke="#000" stroke-width="1" fill="none" shape-rendering="crispEdges"/><path shape-rendering="crispEdges" d="M293.7 402.1L294.0 414.4L291.2 409.2L285.7 411.5Z" fill="#000"/>
<g shape-rendering="crispEdges">
<rect x="511.5" y="65.5" width="130" height="61" fill="#fff" stroke="#000" stroke-width="1"/>
<path d="M519 95.5H537M543 95.5H559" stroke="#000" stroke-width="1" fill="none"/>
<path fill="#ff0000" d="M537.0 76.0h1v-1h1v-1h1v1h1v1h1v1h-1v1h-1v1h-1v-1h-1v-1h-1z"/>
<path d="M529 112h20v5h-20zM537 104h5v20h-5zM549 114h1v1h-1zM539 124h1v1h-1z" fill="#da2800"/>
</g>
<text class="s" x="563" y="81.5">Unit Disk</text>
<text class="s" x="563" y="100.2">Disk Margin</text>
<text class="s" x="563" y="119.3">Critical point</text>
</svg></body></html>
